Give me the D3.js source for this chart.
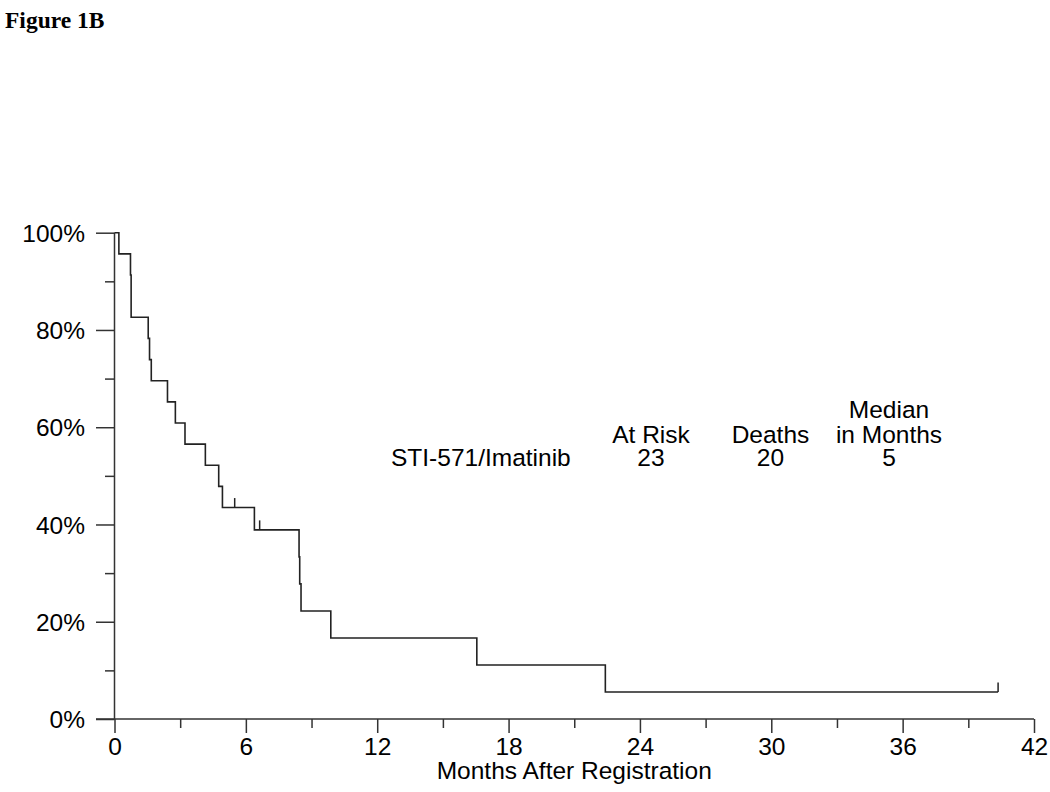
<!DOCTYPE html>
<html>
<head>
<meta charset="utf-8">
<script src="https://cdn.jsdelivr.net/npm/d3@7"></script>
<style>
  html, body { margin: 0; padding: 0; background: #fff; }
  svg { display: block; }
</style>
</head>
<body>
<script>
// ---- data ----
const stepTimes = [0, 0.2, 0.73, 0.76, 1.54, 1.6, 1.68, 2.42, 2.78, 3.22, 4.15, 4.76, 4.93, 6.39, 8.43, 8.46, 8.52, 9.88, 16.55, 22.42, 40.36];
const stepSurvival = [1.0, 0.9565, 0.9130, 0.8261, 0.7826, 0.7391, 0.6957, 0.6522, 0.6087, 0.5652, 0.5217, 0.4783, 0.4348, 0.3889, 0.3333, 0.2778, 0.2222, 0.1667, 0.1111, 0.0556, 0.0556];
const censorTimes = [5.49, 6.63, 40.36];
const xMajorTicks = [0, 6, 12, 18, 24, 30, 36, 42];
const xMinorTicks = [3, 9, 15, 21, 27, 33, 39];
const yMajorTicks = [0, 0.2, 0.4, 0.6, 0.8, 1.0];
const yMinorTicks = [0.1, 0.3, 0.5, 0.7, 0.9];
const groupName = "STI-571/Imatinib";
const atRisk = "23";
const deaths = "20";
const median = "5";

const W = 1050, H = 792;
const svg = d3.select("body").append("svg").attr("width", W).attr("height", H);

const x = d3.scaleLinear().domain([0, 42]).range([114.5, 1034]);
const y = d3.scaleLinear().domain([0, 1]).range([719, 232.7]);

const axisColor = "#333";
const font = "'Liberation Sans', Arial, sans-serif";

// title
svg.append("text").attr("x", 5).attr("y", 28)
  .attr("font-family", "'Liberation Serif', 'Times New Roman', serif")
  .attr("font-weight", "bold").attr("font-size", 23.5).attr("fill", "#000")
  .text("Figure 1B");

// x axis major
const gx = svg.append("g").attr("transform", `translate(0,${y(0)})`);
gx.call(d3.axisBottom(x).tickValues(xMajorTicks).tickSize(14).tickFormat(d3.format("d")));
gx.select(".domain").remove();
gx.selectAll("line").attr("stroke", axisColor).attr("stroke-width", 1.5);
gx.selectAll("text").attr("font-family", font).attr("font-size", 24.5).attr("fill", "#000")
  .attr("y", 36).attr("dy", 0);
// x minor
const gxm = svg.append("g").attr("transform", `translate(0,${y(0)})`);
gxm.call(d3.axisBottom(x).tickValues(xMinorTicks).tickSize(9).tickFormat(""));
gxm.select(".domain").remove();
gxm.selectAll("line").attr("stroke", axisColor).attr("stroke-width", 1.5);
// x axis line
svg.append("line").attr("x1", x(0) - 18.5).attr("x2", x(42)).attr("y1", y(0)).attr("y2", y(0))
  .attr("stroke", axisColor).attr("stroke-width", 1.5);

// y axis major
const gy = svg.append("g").attr("transform", `translate(${x(0)},0)`);
gy.call(d3.axisLeft(y).tickValues(yMajorTicks).tickSize(18.5).tickPadding(11).tickFormat(d3.format(".0%")));
gy.select(".domain").remove();
gy.selectAll("line").attr("stroke", axisColor).attr("stroke-width", 1.5);
gy.selectAll("text").attr("font-family", font).attr("font-size", 24.5).attr("fill", "#000").attr("dy", "0.35em");
// y minor
const gym = svg.append("g").attr("transform", `translate(${x(0)},0)`);
gym.call(d3.axisLeft(y).tickValues(yMinorTicks).tickSize(9.5).tickFormat(""));
gym.select(".domain").remove();
gym.selectAll("line").attr("stroke", axisColor).attr("stroke-width", 1.5);
// y axis line
svg.append("line").attr("x1", x(0)).attr("x2", x(0)).attr("y1", y(0)).attr("y2", y(1))
  .attr("stroke", axisColor).attr("stroke-width", 1.5);

// x axis title
svg.append("text").attr("x", (x(0) + x(42)) / 2).attr("y", 779)
  .attr("text-anchor", "middle").attr("font-family", font).attr("font-size", 24.5).attr("fill", "#000")
  .text("Months After Registration");

// survival curve
const pts = stepTimes.map((t, i) => [t, stepSurvival[i]]);
const line = d3.line().x(d => x(d[0])).y(d => y(d[1])).curve(d3.curveStepAfter);
svg.append("path").attr("d", line(pts)).attr("fill", "none")
  .attr("stroke", "#222").attr("stroke-width", 1.6);

// censor marks
function survAt(t) {
  let s = 1;
  for (let i = 0; i < stepTimes.length; i++) if (stepTimes[i] <= t) s = stepSurvival[i];
  return s;
}
svg.selectAll("line.censor").data(censorTimes).enter().append("line")
  .attr("class", "censor")
  .attr("x1", d => x(d)).attr("x2", d => x(d))
  .attr("y1", d => y(survAt(d))).attr("y2", d => y(survAt(d)) - 9.5)
  .attr("stroke", "#222").attr("stroke-width", 1.5);

// legend table
const lg = svg.append("g").attr("font-family", font).attr("font-size", 24.5).attr("fill", "#000");
lg.append("text").attr("x", 391).attr("y", 466).text(groupName);
lg.append("text").attr("x", 651).attr("y", 443).attr("text-anchor", "middle").text("At Risk");
lg.append("text").attr("x", 651).attr("y", 466).attr("text-anchor", "middle").text(atRisk);
lg.append("text").attr("x", 770.5).attr("y", 443).attr("text-anchor", "middle").text("Deaths");
lg.append("text").attr("x", 770.5).attr("y", 466).attr("text-anchor", "middle").text(deaths);
lg.append("text").attr("x", 889).attr("y", 418).attr("text-anchor", "middle").text("Median");
lg.append("text").attr("x", 889).attr("y", 443).attr("text-anchor", "middle").text("in Months");
lg.append("text").attr("x", 889).attr("y", 466).attr("text-anchor", "middle").text(median);
</script>
</body>
</html>
